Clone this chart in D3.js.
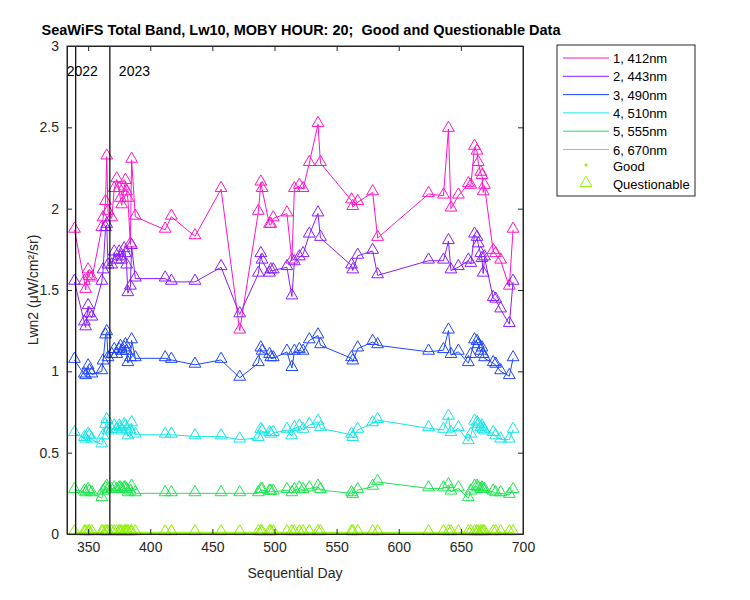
<!DOCTYPE html>
<html><head><meta charset="utf-8">
<script src="https://cdn.jsdelivr.net/npm/d3@7"></script>
<style>body{margin:0;background:#fff;font-family:Arial,"Liberation Sans",sans-serif}</style>
</head><body><svg id="c" width="750" height="600"></svg>
<script>
const days=[339,347,348,350,351,353,361,362,364,365,366,369,371,373,375,376,377,379,380,381,382,384,385,388,412,417,436,457,472,487,489,490,496,497,499,510,514,516,520,523,528,535,537,562,563,567,579,583,624,636,640,642,648,656,658,661,663,664,666,667,668,669,676,678,682,689,692];
const b412=[1.87,1.55,1.50,1.62,1.58,1.57,1.88,1.94,2.04,2.32,1.98,1.94,2.12,2.18,2.12,2.06,2.02,2.13,2.17,2.10,2.06,1.78,2.30,1.95,1.87,1.95,1.83,2.12,1.25,1.98,2.16,2.12,1.90,1.90,1.94,1.97,1.68,2.12,2.14,2.12,2.28,2.52,2.28,2.05,2.01,2.04,2.10,1.82,2.09,2.08,2.49,2.00,2.08,2.15,2.14,2.38,2.35,2.28,2.22,2.20,2.10,2.14,1.74,1.72,1.68,1.52,1.87];
const b443=[1.55,1.30,1.27,1.40,1.35,1.33,1.55,1.62,1.88,1.90,1.65,1.65,1.73,1.68,1.73,1.70,1.68,1.75,1.72,1.65,1.48,1.52,1.77,1.57,1.57,1.55,1.55,1.64,1.35,1.60,1.72,1.68,1.60,1.62,1.62,1.64,1.46,1.67,1.70,1.72,1.84,1.97,1.82,1.65,1.62,1.71,1.74,1.59,1.68,1.68,1.80,1.62,1.64,1.68,1.66,1.84,1.82,1.78,1.72,1.69,1.60,1.70,1.45,1.44,1.38,1.29,1.55];
const b490=[1.07,0.98,0.97,1.03,1.00,0.98,1.00,1.06,1.22,1.24,1.08,1.10,1.13,1.10,1.13,1.15,1.12,1.14,1.16,1.12,1.05,1.08,1.19,1.08,1.08,1.07,1.04,1.07,0.96,1.05,1.14,1.12,1.10,1.08,1.08,1.12,1.02,1.12,1.13,1.12,1.19,1.22,1.16,1.08,1.06,1.14,1.18,1.16,1.12,1.13,1.25,1.10,1.12,1.05,1.10,1.19,1.18,1.16,1.12,1.14,1.10,1.08,1.05,1.04,1.00,0.97,1.08];
const b510=[0.62,0.59,0.58,0.61,0.60,0.58,0.55,0.60,0.67,0.70,0.63,0.64,0.66,0.64,0.66,0.65,0.63,0.67,0.66,0.64,0.60,0.63,0.68,0.61,0.61,0.61,0.60,0.60,0.58,0.59,0.64,0.63,0.62,0.61,0.62,0.64,0.60,0.65,0.66,0.64,0.67,0.69,0.65,0.61,0.59,0.64,0.68,0.70,0.65,0.64,0.72,0.62,0.65,0.57,0.61,0.69,0.68,0.67,0.65,0.66,0.64,0.63,0.62,0.60,0.58,0.58,0.64];
const b555=[0.27,0.26,0.25,0.27,0.26,0.25,0.22,0.26,0.28,0.29,0.27,0.27,0.28,0.27,0.28,0.28,0.27,0.28,0.28,0.27,0.25,0.26,0.29,0.25,0.25,0.25,0.25,0.25,0.25,0.25,0.27,0.27,0.26,0.26,0.26,0.27,0.25,0.27,0.28,0.27,0.28,0.29,0.27,0.25,0.24,0.27,0.29,0.32,0.28,0.28,0.30,0.26,0.28,0.22,0.26,0.29,0.29,0.28,0.27,0.28,0.27,0.27,0.26,0.25,0.25,0.24,0.27];
const b670=days.map(()=>0.01);
const series=[{n:"1, 412nm",c:"#ff14c8",v:b412},{n:"2, 443nm",c:"#8a1cff",v:b443},{n:"3, 490nm",c:"#1e46ff",v:b490},{n:"4, 510nm",c:"#14e6e6",v:b510},{n:"5, 555nm",c:"#1ee650",v:b555},{n:"6, 670nm",c:"#8cf000",v:b670}];
const yearLines=[{d:340,t:"2022"},{d:367.5,t:"2023"}];
const xTicks=[350,400,450,500,550,600,650,700], yTicks=[0,0.5,1,1.5,2,2.5,3];

const svg=d3.select("#c");
const L=67,R=523,T=46,B=534;
const x=d3.scaleLinear().domain([333,700]).range([L,R]);
const y=d3.scaleLinear().domain([0,3]).range([B,T]);
const g=svg.append("g");
const tri=d3.symbol().type(d3.symbolTriangle).size(60);
series.forEach(s=>{
  const pts=days.map((d,i)=>[d,s.v[i]]);
  g.append("path").datum(pts).attr("fill","none").attr("stroke",s.c).attr("stroke-width",1)
   .attr("d",d3.line().x(p=>x(p[0])).y(p=>y(p[1])));
  g.selectAll(null).data(pts).enter().append("path").attr("d",tri)
   .attr("transform",p=>`translate(${x(p[0])},${y(p[1])-1})`).attr("fill","none").attr("stroke",s.c).attr("stroke-width",1);
});
yearLines.forEach(l=>{
  g.append("line").attr("x1",x(l.d)).attr("x2",x(l.d)).attr("y1",T).attr("y2",B).attr("stroke","#000").attr("stroke-width",1.2);
  g.append("text").attr("x",x(l.d)+(l.t=="2022"?-9:9)).attr("y",76).attr("font-size",14).text(l.t);
});
svg.append("g").attr("transform",`translate(0,${B})`).call(d3.axisBottom(x).tickValues(xTicks).tickSizeInner(-5).tickSizeOuter(0).tickPadding(8));
svg.append("g").attr("transform",`translate(${L},0)`).call(d3.axisLeft(y).tickValues(yTicks).tickFormat(d3.format("~g")).tickSizeInner(-5).tickSizeOuter(0).tickPadding(8));
svg.append("g").attr("transform",`translate(0,${T})`).call(d3.axisTop(x).tickValues(xTicks).tickSizeInner(-5).tickSizeOuter(0).tickFormat(""));
svg.append("g").attr("transform",`translate(${R},0)`).call(d3.axisRight(y).tickValues(yTicks).tickSizeInner(-5).tickSizeOuter(0).tickFormat(""));
svg.selectAll(".domain,.tick line").attr("stroke","#262626");
svg.selectAll(".tick text").attr("font-size",14).attr("fill","#262626").attr("font-family","Arial,Liberation Sans");
svg.append("rect").attr("x",L).attr("y",T).attr("width",R-L).attr("height",B-T).attr("fill","none").attr("stroke","#262626");
svg.append("text").attr("x",(L+R)/2).attr("y",578).attr("text-anchor","middle").attr("font-size",14).attr("fill","#262626").text("Sequential Day");
svg.append("text").attr("transform",`translate(38,${(T+B)/2}) rotate(-90)`).attr("text-anchor","middle").attr("font-size",14).attr("fill","#262626").text("Lwn2 (μW/cm²/sr)");
svg.append("text").attr("x",(L+R)/2+6).attr("y",35).attr("text-anchor","middle").attr("font-size",14.5).attr("font-weight","bold")
  .style("white-space","pre").attr("xml:space","preserve").text("SeaWiFS Total Band, Lw10, MOBY HOUR: 20;  Good and Questionable Data");
const lg=svg.append("g");
lg.append("rect").attr("x",557).attr("y",45).attr("width",138).attr("height",151).attr("fill","#fff").attr("stroke","#262626");
series.forEach((s,i)=>{
  const yy=58+i*18.3;
  lg.append("line").attr("x1",563).attr("x2",609).attr("y1",yy).attr("y2",yy).attr("stroke",s.c);
  lg.append("text").attr("x",613).attr("y",yy+5).attr("font-size",13).text(s.n);
});
lg.append("circle").attr("cx",586).attr("cy",165).attr("r",1.5).attr("fill","#8cf000");
lg.append("text").attr("x",613).attr("y",171).attr("font-size",13).text("Good");
lg.append("path").attr("d",tri).attr("transform","translate(586,183)").attr("fill","none").attr("stroke","#8cf000");
lg.append("text").attr("x",613).attr("y",189).attr("font-size",13).text("Questionable");
</script></body></html>
